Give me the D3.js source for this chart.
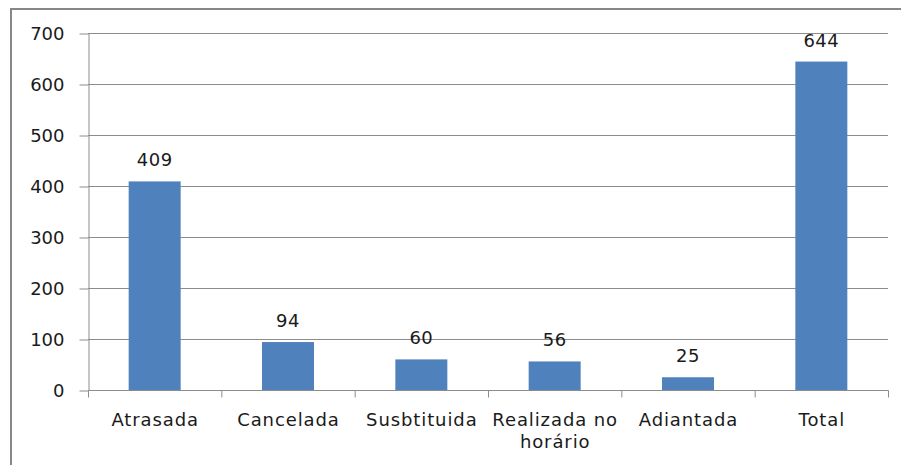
<!DOCTYPE html>
<html>
<head>
<meta charset="utf-8">
<script src="https://cdn.jsdelivr.net/npm/d3@7"></script>
<style>
  body { margin: 0; background: #fff; }
  svg { display: block; }
  text { font-family: "DejaVu Sans", Verdana, sans-serif; fill: #1a1a1a; }
</style>
</head>
<body>
<script>
const W = 901;
const H = 465;

// dados
const categorias = ["Atrasada", "Cancelada", "Susbtituida", "Realizada no horário", "Adiantada", "Total"];
const valores = [409, 94, 60, 56, 25, 644];
const yTicks = [0, 100, 200, 300, 400, 500, 600, 700];

const margin = { top: 33, right: 13, bottom: 75, left: 88 };
const width = W - margin.left - margin.right;
const height = H - margin.top - margin.bottom;

const svg = d3.select("body").append("svg")
    .attr("width", W)
    .attr("height", H);

// moldura do gráfico (só aparece em cima e à esquerda)
svg.append("rect")
    .attr("x", 11)
    .attr("y", 9)
    .attr("width", W + 20)
    .attr("height", H + 20)
    .attr("fill", "none")
    .attr("stroke", "#878787")
    .attr("stroke-width", 2);

const g = svg.append("g")
    .attr("transform", `translate(${margin.left},${margin.top})`);

const x = d3.scaleBand()
    .domain(categorias)
    .range([0, width])
    .paddingInner(0.61)
    .paddingOuter(0.305);

const xCat = d3.scaleBand()
    .domain(categorias)
    .range([0, width]);

const y = d3.scaleLinear()
    .domain([0, 700])
    .range([height, 0]);

// linhas de grade
g.append("g")
    .selectAll("line")
    .data(yTicks.slice(1))
    .enter().append("line")
    .attr("x1", 0)
    .attr("x2", width)
    .attr("y1", d => y(d) + 0.5)
    .attr("y2", d => y(d) + 0.5)
    .attr("stroke", "#8c8c8c")
    .attr("stroke-width", 1);

// Eixo Y
const yAxis = g.append("g")
    .attr("transform", "translate(0.5,0.5)")
    .call(d3.axisLeft(y).tickValues(yTicks).tickSize(9).tickPadding(15).tickSizeOuter(0));
yAxis.select(".domain").attr("stroke", "#8c8c8c");
yAxis.selectAll(".tick line").attr("stroke", "#8c8c8c");
yAxis.selectAll("text")
    .style("font-size", "18px")
    .attr("dy", "0.36em")
    .attr("fill", "#1a1a1a");

// Eixo X
const xAxisG = g.append("g")
    .attr("transform", `translate(0.5,${height + 0.5})`);
xAxisG.append("line")
    .attr("x1", 0)
    .attr("x2", width)
    .attr("stroke", "#8c8c8c");
xAxisG.selectAll(".tk")
    .data(categorias.concat(["fim"]))
    .enter().append("line")
    .attr("class", "tk")
    .attr("x1", (d, i) => i < categorias.length ? xCat(d) : width)
    .attr("x2", (d, i) => i < categorias.length ? xCat(d) : width)
    .attr("y1", 0)
    .attr("y2", 7)
    .attr("stroke", "#8c8c8c");

const labels = xAxisG.selectAll(".cat")
    .data(categorias)
    .enter().append("text")
    .attr("class", "cat")
    .attr("text-anchor", "middle")
    .attr("x", d => xCat(d) + xCat.bandwidth() / 2)
    .attr("y", 35)
    .style("font-size", "18px")
    .style("letter-spacing", "0.9px");

labels.each(function(d) {
    const t = d3.select(this);
    const partes = d === "Realizada no horário" ? ["Realizada no", "horário"] : [d];
    partes.forEach((p, i) => {
        t.append("tspan")
            .attr("x", xCat(d) + xCat.bandwidth() / 2)
            .attr("dy", i === 0 ? 0 : 22)
            .text(p);
    });
});

// Barras
g.selectAll(".bar")
    .data(valores)
    .enter().append("rect")
    .attr("class", "bar")
    .attr("x", (d, i) => x(categorias[i]))
    .attr("y", d => y(d))
    .attr("width", x.bandwidth())
    .attr("height", d => height - y(d))
    .attr("fill", "#4f81bd");

// Rótulos de valor
g.selectAll(".val")
    .data(valores)
    .enter().append("text")
    .attr("class", "val")
    .attr("text-anchor", "middle")
    .attr("x", (d, i) => x(categorias[i]) + x.bandwidth() / 2)
    .attr("y", d => y(d) - 15)
    .style("font-size", "18px")
    .style("letter-spacing", "0.5px")
    .text(d => d);
</script>
</body>
</html>
